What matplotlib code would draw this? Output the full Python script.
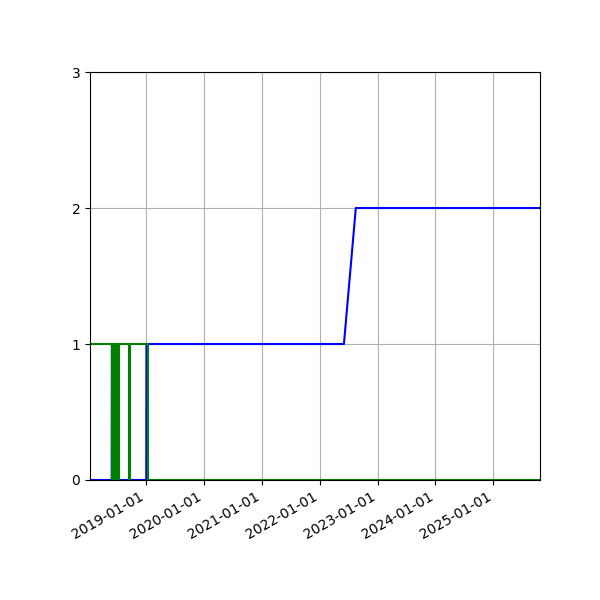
import matplotlib
matplotlib.use("Agg")
import matplotlib.pyplot as plt
import matplotlib.dates as mdates
import pandas as pd

blue_dates = ["2018-01-13", "2018-05-30", "2018-05-31", "2018-06-02", "2018-06-03",
              "2019-01-03", "2019-01-04", "2022-06-03", "2022-08-17", "2025-10-22"]
blue_values = [0, 0, 1, 1, 0, 0, 1, 1, 2, 2]

green_dates = ["2018-01-13", "2018-06-02", "2018-06-06", "2018-06-10", "2018-06-14",
               "2018-06-18", "2018-06-22", "2018-06-26", "2018-06-30", "2018-07-04",
               "2018-07-08", "2018-07-12", "2018-07-16", "2018-07-19",
               "2018-09-16", "2018-09-21", "2019-01-12", "2025-10-22"]
green_values = [1, 0, 1, 0, 1, 0, 1, 0, 1, 0, 1, 0, 1, 1,
                0, 1, 0, 0]

y_ticks = [0, 1, 2, 3]

bd = pd.to_datetime(blue_dates)
gd = pd.to_datetime(green_dates)

fig, ax = plt.subplots(figsize=(6, 6), dpi=100)
ax.plot(bd, blue_values, color="blue", lw=1.5)
ax.plot(gd, green_values, color="green", lw=1.5, drawstyle="steps-post")
ax.set_ylim(0, 3)
ax.set_yticks(y_ticks)
ax.set_xlim(bd[0], bd[-1])
ax.xaxis.set_major_locator(mdates.YearLocator())
ax.xaxis.set_major_formatter(mdates.DateFormatter("%Y-%m-%d"))
ax.grid(True)
fig.autofmt_xdate()
fig.subplots_adjust(left=0.15, right=0.9, top=0.88, bottom=0.2)
fig.savefig("out.png")
